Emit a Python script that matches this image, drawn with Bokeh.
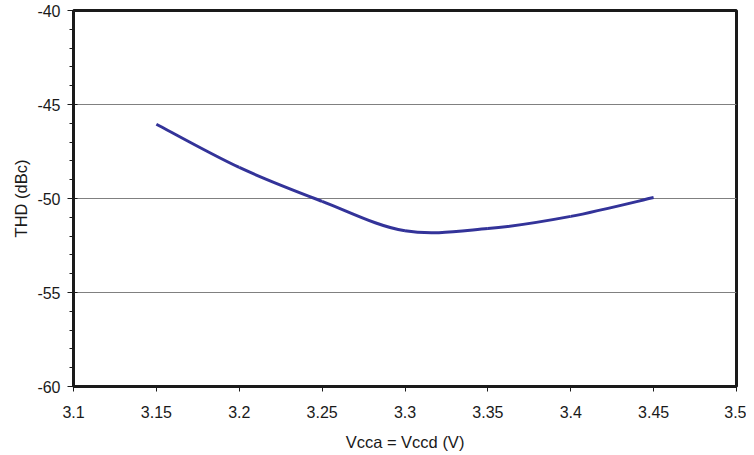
from bokeh.plotting import figure
from bokeh.embed import file_html
from bokeh.resources import INLINE
from bokeh.models import FixedTicker, ColumnDataSource, CustomJSTickFormatter

# Data
vcc = [3.15, 3.20, 3.25, 3.30, 3.35, 3.40, 3.45]
thd = [-46.05, -48.35, -50.15, -51.72, -51.60, -50.95, -49.95]

x_ticks = [3.1, 3.15, 3.2, 3.25, 3.3, 3.35, 3.4, 3.45, 3.5]
y_ticks = [-60, -55, -50, -45, -40]
y_minor = list(range(-60, -39))

FONT = "Liberation Sans"

p = figure(frame_width=663, frame_height=376, x_range=(3.1, 3.5), y_range=(-60, -40),
           output_backend="svg", toolbar_location=None,
           min_border_left=73, min_border_right=10, min_border_top=10, min_border_bottom=10)
p.background_fill_color = "white"
p.border_fill_color = "white"
p.outline_line_color = "#1a1a1a"
p.outline_line_width = 3

# Smoothed line (Catmull-Rom style Bezier through the data points)
n = len(vcc)
x0, y0, x1, y1, cx0, cy0, cx1, cy1 = [], [], [], [], [], [], [], []
for i in range(n - 1):
    pm = i - 1 if i > 0 else i
    pp = i + 2 if i + 2 < n else i + 1
    x0.append(vcc[i]); y0.append(thd[i])
    x1.append(vcc[i + 1]); y1.append(thd[i + 1])
    cx0.append(vcc[i] + (vcc[i + 1] - vcc[pm]) / 6.0)
    cy0.append(thd[i] + (thd[i + 1] - thd[pm]) / 6.0)
    cx1.append(vcc[i + 1] - (vcc[pp] - vcc[i]) / 6.0)
    cy1.append(thd[i + 1] - (thd[pp] - thd[i]) / 6.0)
src = ColumnDataSource(dict(x0=x0, y0=y0, x1=x1, y1=y1, cx0=cx0, cy0=cy0, cx1=cx1, cy1=cy1))
p.bezier(x0="x0", y0="y0", x1="x1", y1="y1", cx0="cx0", cy0="cy0", cx1="cx1", cy1="cy1",
         source=src, line_color="#333399", line_width=3)

# Axes
p.xaxis.ticker = FixedTicker(ticks=x_ticks)
p.yaxis.ticker = FixedTicker(ticks=y_ticks, minor_ticks=y_minor)
p.xaxis.formatter = CustomJSTickFormatter(code="return String(Math.round(tick * 100) / 100);")
p.yaxis.formatter = CustomJSTickFormatter(code="return String(Math.round(tick));")
p.xaxis.axis_label = "Vcca = Vccd (V)"
p.yaxis.axis_label = "THD (dBc)"
for ax in (p.xaxis, p.yaxis):
    ax.axis_line_color = "#1a1a1a"
    ax.axis_line_width = 3
    ax.major_tick_line_color = "#1a1a1a"
    ax.major_tick_line_width = 1
    ax.minor_tick_line_color = "#1a1a1a"
    ax.minor_tick_line_width = 1
    ax.major_label_text_font = FONT
    ax.major_label_text_font_size = "16px"
    ax.major_label_text_color = "#1a1a1a"
    ax.axis_label_text_font = FONT
    ax.axis_label_text_font_size = "16.5px"
    ax.axis_label_text_font_style = "normal"
    ax.axis_label_text_color = "#1a1a1a"

p.xaxis.major_tick_out = 5
p.xaxis.major_tick_in = 0
p.xaxis.minor_tick_out = 0
p.xaxis.minor_tick_in = 0
p.xaxis.major_label_standoff = 14
p.xaxis.axis_label_standoff = 12

p.yaxis.major_tick_out = 6
p.yaxis.major_tick_in = 4
p.yaxis.minor_tick_out = 4
p.yaxis.minor_tick_in = 0
p.yaxis.major_label_standoff = 7
p.yaxis.axis_label_standoff = 4

p.xgrid.grid_line_color = None
p.ygrid.grid_line_color = "#808080"
p.ygrid.grid_line_width = 1.2

open("out.html", "w").write(file_html(p, INLINE))
